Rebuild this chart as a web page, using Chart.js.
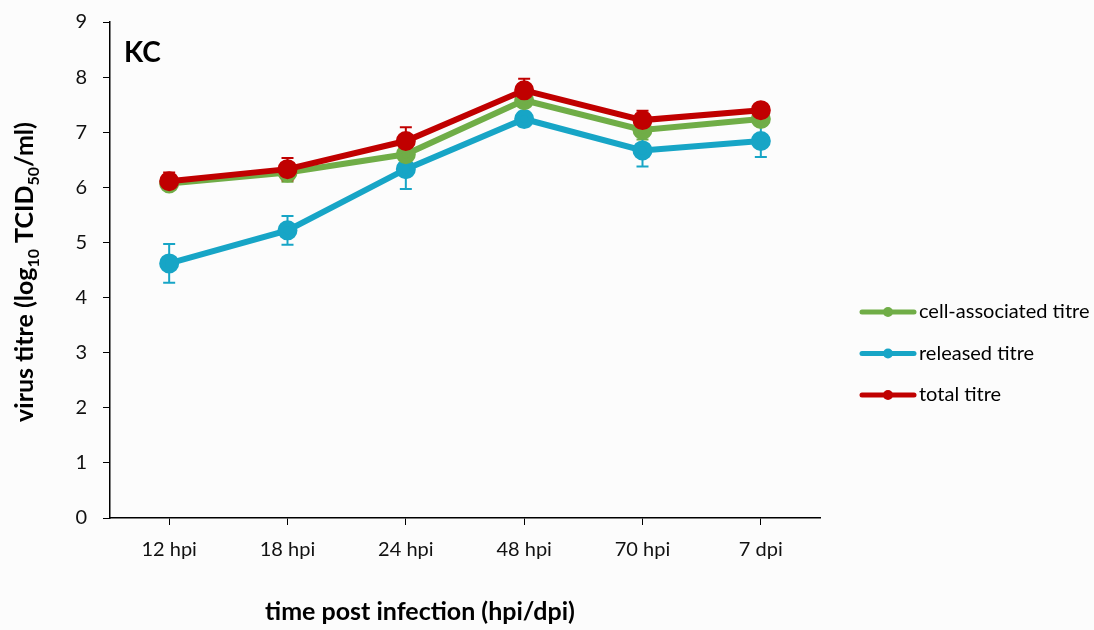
<!DOCTYPE html>
<html>
<head>
<meta charset="utf-8">
<script src="https://cdn.jsdelivr.net/npm/chart.js@4"></script>
<style>
  html, body { margin: 0; padding: 0; background: #fcfcfc; }
  #wrap { width: 1094px; height: 630px; }
</style>
</head>
<body>
<div id="wrap"><canvas id="myChart" width="1094" height="630"></canvas></div>
<script>
// categories and series
const labels = ['12 hpi', '18 hpi', '24 hpi', '48 hpi', '70 hpi', '7 dpi'];
const cellAssoc = [6.07, 6.27, 6.60, 7.58, 7.04, 7.24];
const cellAssocErr = [0.10, 0.17, 0.15, 0.30, 0.17, 0.12];
const released = [4.62, 5.22, 6.33, 7.24, 6.67, 6.84];
const releasedErr = [0.35, 0.26, 0.36, 0.13, 0.29, 0.29];
const total = [6.11, 6.33, 6.84, 7.76, 7.22, 7.40];
const totalErr = [0.16, 0.20, 0.25, 0.21, 0.17, 0.05];
const yTicks = [0, 1, 2, 3, 4, 5, 6, 7, 8, 9];

const FONT = 'Lato, "Open Sans", sans-serif';
const GREEN = '#70ad47';
const BLUE = '#17a5c6';
const RED = '#c00000';

function series(label, values, errs, color, order) {
    return {
        label: label,
        data: values,
        errors: errs,
        borderColor: color,
        backgroundColor: color,
        pointBackgroundColor: color,
        pointBorderColor: color,
        borderWidth: 6,
        pointRadius: 7,
        pointHoverRadius: 7,
        tension: 0,
        fill: false,
        order: order
    };
}

// error bars, drawn under the lines
const errorBars = {
    id: 'errorBars',
    beforeDatasetsDraw(chart) {
        const ctx = chart.ctx;
        const y = chart.scales.y;
        chart.data.datasets.forEach((ds, i) => {
            const meta = chart.getDatasetMeta(i);
            ctx.save();
            ctx.strokeStyle = ds.borderColor;
            ctx.lineWidth = 2;
            meta.data.forEach((pt, j) => {
                const e = ds.errors[j];
                const top = y.getPixelForValue(ds.data[j] + e);
                const bot = y.getPixelForValue(ds.data[j] - e);
                ctx.beginPath();
                ctx.moveTo(pt.x, top); ctx.lineTo(pt.x, bot);
                ctx.moveTo(pt.x - 6, top); ctx.lineTo(pt.x + 6, top);
                ctx.moveTo(pt.x - 6, bot); ctx.lineTo(pt.x + 6, bot);
                ctx.stroke();
            });
            ctx.restore();
        });
    }
};

// titles, panel label and legend
const extras = {
    id: 'extras',
    afterDraw(chart) {
        const ctx = chart.ctx;
        const area = chart.chartArea;
        ctx.save();
        ctx.fillStyle = '#000';

        // panel label
        ctx.font = 'bold 28px ' + FONT;
        ctx.textBaseline = 'alphabetic';
        ctx.textAlign = 'left';
        ctx.fillText('KC', area.left + 14, 62);

        // x axis title
        ctx.font = 'bold 25px ' + FONT;
        ctx.textAlign = 'center';
        ctx.textBaseline = 'middle';
        ctx.fillText('time post infection (hpi/dpi)', 420, 612);
        ctx.textAlign = 'left';
        ctx.textBaseline = 'alphabetic';

        // y axis title with subscripts
        const parts = [
            ['virus titre (log', false], ['10', true], [' TCID', false], ['50', true], ['/ml)', false]
        ];
        const big = 'bold 25px ' + FONT;
        const small = 'bold 16px ' + FONT;
        let w = 0;
        parts.forEach(p => { ctx.font = p[1] ? small : big; w += ctx.measureText(p[0]).width; });
        ctx.translate(33, (area.top + area.bottom) / 2 + 2);
        ctx.rotate(-Math.PI / 2);
        let x = -w / 2;
        parts.forEach(p => {
            ctx.font = p[1] ? small : big;
            ctx.fillText(p[0], x, p[1] ? 6 : 0);
            x += ctx.measureText(p[0]).width;
        });
        ctx.restore();

        // legend
        ctx.save();
        ctx.font = '20px ' + FONT;
        ctx.textBaseline = 'middle';
        ctx.textAlign = 'left';
        chart.data.datasets.forEach((ds, i) => {
            const ly = 312 + i * 41.5;
            ctx.strokeStyle = ds.borderColor;
            ctx.lineWidth = 5;
            ctx.lineCap = 'round';
            ctx.beginPath();
            ctx.moveTo(862, ly); ctx.lineTo(914, ly);
            ctx.stroke();
            ctx.fillStyle = ds.borderColor;
            ctx.beginPath();
            ctx.arc(888, ly, 5, 0, Math.PI * 2);
            ctx.fill();
            ctx.fillStyle = '#000';
            ctx.fillText(ds.label, 919, ly);
        });
        ctx.restore();
    }
};

const config = {
    type: 'line',
    data: {
        labels: labels,
        datasets: [
            series('cell-associated titre', cellAssoc, cellAssocErr, GREEN, 1),
            series('released titre', released, releasedErr, BLUE, 2),
            series('total titre', total, totalErr, RED, 0)
        ]
    },
    options: {
        responsive: false,
        animation: false,
        layout: { padding: { top: 22, right: 274, left: 0, bottom: 0 } },
        plugins: {
            legend: { display: false },
            tooltip: { enabled: false }
        },
        scales: {
            x: {
                offset: true,
                afterFit: s => { s.height = 112; s.paddingLeft = 0; s.paddingRight = 0; },
                grid: {
                    offset: false,
                    drawOnChartArea: false,
                    drawTicks: true,
                    tickLength: 7,
                    color: '#000'
                },
                border: { display: true, color: '#000', width: 1.5 },
                ticks: { color: '#111', padding: 13, font: { family: FONT, size: 20 } }
            },
            y: {
                min: 0,
                max: 9,
                afterFit: s => { s.width = 110; s.paddingTop = 0; s.paddingBottom = 0; },
                afterBuildTicks: s => { s.ticks = yTicks.map(v => ({ value: v })); },
                grid: {
                    drawOnChartArea: false,
                    drawTicks: true,
                    tickLength: 7,
                    color: '#000'
                },
                border: { display: true, color: '#000', width: 1.5 },
                ticks: { color: '#111', padding: 16, font: { family: FONT, size: 20 } }
            }
        }
    },
    plugins: [errorBars, extras]
};

const myChart = new Chart(document.getElementById('myChart'), config);
</script>
</body>
</html>
